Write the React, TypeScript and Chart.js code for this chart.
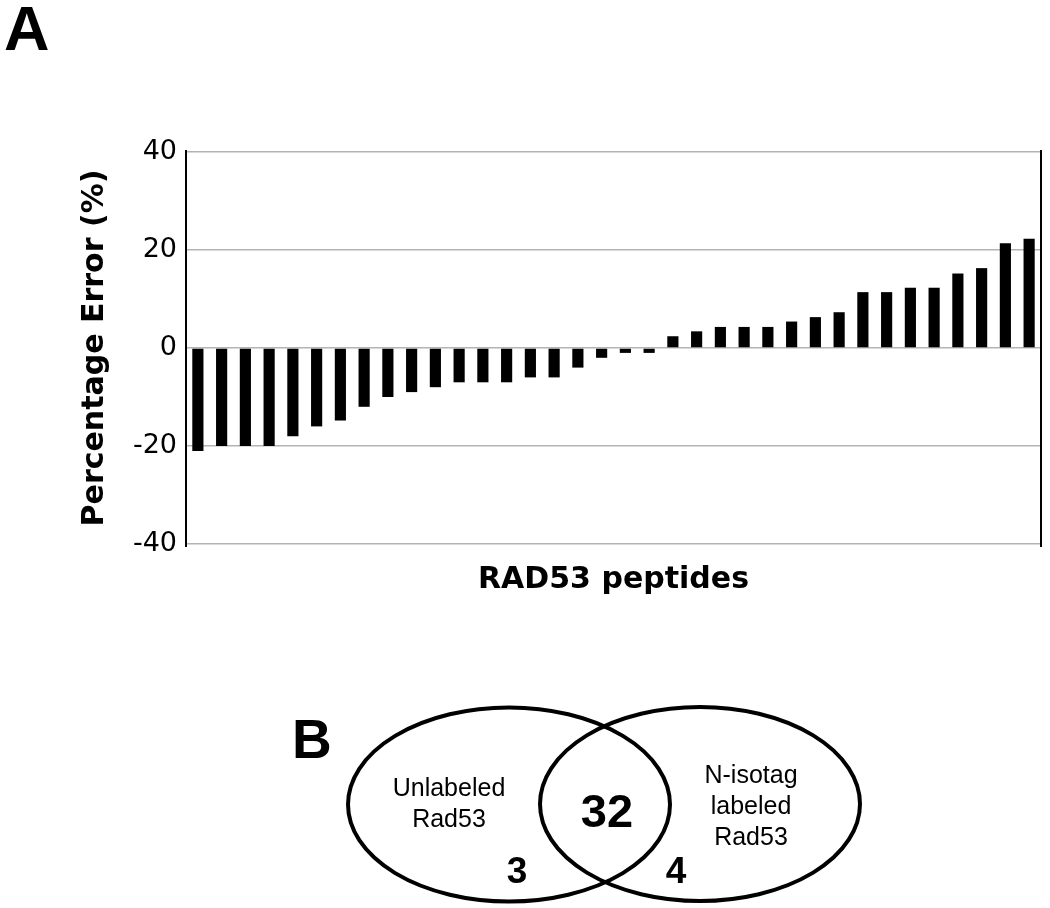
import React, { useEffect, useRef } from "react";
import { Chart, registerables } from "chart.js";

Chart.register(...registerables);

// ---- Data ----
const peptides: string[] = Array.from({ length: 36 }, (_, i) => `P${i + 1}`);
const percentError: number[] = [
  -21, -20, -20, -20, -18, -16, -14.8, -12, -10, -9, -8, -7, -7, -7, -6, -6, -4, -2,
  -1, -1, 2.4, 3.4, 4.3, 4.3, 4.3, 5.4, 6.3, 7.3, 11.4, 11.4, 12.3, 12.3, 15.2, 16.3,
  21.4, 22.3,
];
const yTicks: number[] = [-40, -20, 0, 20, 40];
const xTitle = "RAD53 peptides";
const yTitle = "Percentage Error (%)";
const panelLabels: string[] = ["A", "B"];
const vennSetLabels: string[][] = [["Unlabeled", "Rad53"], ["N-isotag", "labeled", "Rad53"]];
const vennCounts: number[] = [3, 32, 4]; // left only, shared, right only

const W = 1050;
const H = 908;

const decorPlugin = {
  id: "decor",
  afterDraw(chart: any) {
    const ctx: CanvasRenderingContext2D = chart.ctx;
    const area = chart.chartArea;
    ctx.save();
    // right frame line
    ctx.strokeStyle = "#000";
    ctx.lineWidth = 2;
    ctx.beginPath();
    ctx.moveTo(area.right, area.top - 2);
    ctx.lineTo(area.right, area.bottom + 3);
    ctx.stroke();
    // left axis small extension
    ctx.beginPath();
    ctx.moveTo(area.left, area.top - 2);
    ctx.lineTo(area.left, area.bottom + 3);
    ctx.stroke();

    // Panel labels
    ctx.fillStyle = "#000";
    ctx.textAlign = "left";
    ctx.textBaseline = "alphabetic";
    ctx.font = "bold 63px 'Liberation Sans', Arial, sans-serif";
    ctx.fillText(panelLabels[0], 4, 50);
    ctx.font = "bold 55px 'Liberation Sans', Arial, sans-serif";
    ctx.fillText(panelLabels[1], 292, 758);

    // Venn diagram
    ctx.lineWidth = 4;
    ctx.strokeStyle = "#000";
    ctx.beginPath();
    ctx.ellipse(509, 804.5, 161, 97, 0, 0, Math.PI * 2);
    ctx.stroke();
    ctx.beginPath();
    ctx.ellipse(700, 804, 160, 97, 0, 0, Math.PI * 2);
    ctx.stroke();

    ctx.textAlign = "center";
    ctx.font = "25px 'Liberation Sans', Arial, sans-serif";
    const leftBase = [796, 827];
    vennSetLabels[0].forEach((t, i) => ctx.fillText(t, 449, leftBase[i]));
    const rightBase = [783, 814, 845];
    vennSetLabels[1].forEach((t, i) => ctx.fillText(t, 751, rightBase[i]));

    ctx.font = "bold 47px 'Liberation Sans', Arial, sans-serif";
    ctx.fillText(String(vennCounts[1]), 607, 827);
    ctx.font = "bold 37px 'Liberation Sans', Arial, sans-serif";
    ctx.fillText(String(vennCounts[0]), 517, 883);
    ctx.fillText(String(vennCounts[2]), 676, 883);
    ctx.restore();
  },
};

export default function App() {
  const ref = useRef<HTMLCanvasElement | null>(null);

  useEffect(() => {
    if (!ref.current) return;
    const chart = new Chart(ref.current, {
      type: "bar",
      data: {
        labels: peptides,
        datasets: [
          {
            data: percentError,
            backgroundColor: "#000",
            borderWidth: 0,
            categoryPercentage: 1,
            barPercentage: 0.47,
          },
        ],
      },
      options: {
        responsive: false,
        animation: false,
        devicePixelRatio: 1,
        layout: { padding: { top: 152, left: 0, right: 9, bottom: 306 } },
        plugins: {
          legend: { display: false },
          tooltip: { enabled: false },
          title: { display: false },
        },
        scales: {
          x: {
            type: "category",
            ticks: { display: false },
            grid: { display: false },
            border: { display: false },
            title: {
              display: true,
              text: xTitle,
              color: "#000",
              font: { family: "'DejaVu Sans', sans-serif", size: 30, weight: "bold" },
              padding: { top: 0, bottom: 4 },
            },
            afterFit: (s: any) => {
              s.height = 58;
            },
          },
          y: {
            min: -40,
            max: 40,
            afterBuildTicks: (s: any) => {
              s.ticks = yTicks.map((v) => ({ value: v }));
            },
            ticks: {
              color: "#000",
              padding: 9,
              font: { family: "'DejaVu Sans', sans-serif", size: 27 },
            },
            grid: {
              color: "#b4b4b4",
              lineWidth: 1.5,
              drawTicks: false,
            },
            border: { display: true, color: "#000", width: 2 },
            title: {
              display: true,
              text: yTitle,
              color: "#000",
              font: { family: "'DejaVu Sans', sans-serif", size: 30, weight: "bold" },
              padding: { top: 77, bottom: 0 },
            },
            afterFit: (s: any) => {
              s.width = 186;
            },
          },
        },
      },
      plugins: [decorPlugin],
    });
    return () => chart.destroy();
  }, []);

  return (
    <div style={{ position: "absolute", left: 0, top: 0, width: W, height: H, background: "#fff" }}>
      <canvas ref={ref} width={W} height={H} style={{ display: "block" }} />
    </div>
  );
}
